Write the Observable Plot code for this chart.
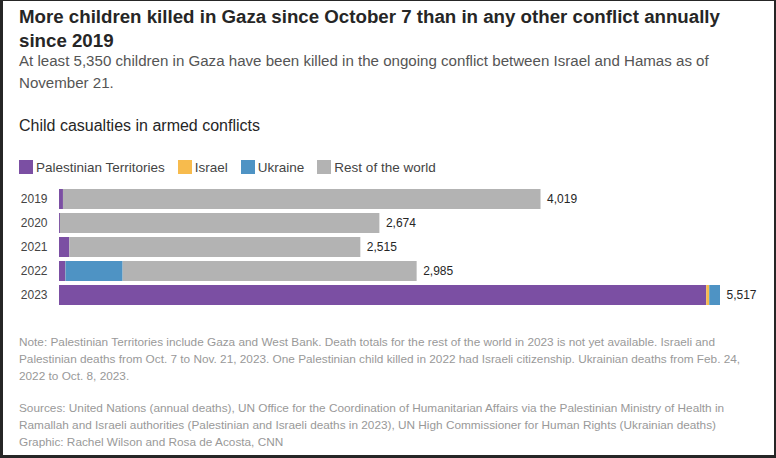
<!DOCTYPE html>
<html>
<head>
<meta charset="utf-8">
<script src="https://cdn.jsdelivr.net/npm/d3@7"></script>
<script src="https://cdn.jsdelivr.net/npm/@observablehq/plot@0.6"></script>
<style>
  html, body { margin: 0; padding: 0; background: #fff; }
  body { width: 776px; height: 458px; position: relative; overflow: hidden; font-family: "Liberation Sans", Arial, sans-serif; }
  .frame { position: absolute; left: 0; top: 0; width: 776px; height: 458px; box-sizing: border-box;
           border-style: solid; border-color: #262626; border-width: 1px 2px 3px 3px; pointer-events: none; z-index: 5; }
  .abs { position: absolute; left: 19px; white-space: nowrap; }
  #title { top: 5px; font-size: 18.7px; font-weight: bold; line-height: 24px; color: #262626; }
  #subtitle { top: 50px; font-size: 15.1px; line-height: 22px; color: #555; }
  #heading { top: 116px; font-size: 16px; line-height: 20px; color: #262626; }
  #legend { top: 159px; height: 16px; display: flex; align-items: center; font-size: 13.5px; color: #444; }
  #legend .sw { width: 14px; height: 14px; margin-right: 3px; }
  #legend .it { display: flex; align-items: center; margin-right: 13px; }
  #chart { position: absolute; left: 0; top: 181px; }
  #note { top: 334px; font-size: 11.8px; line-height: 17px; color: #999; }
  #sources { top: 400px; font-size: 11.8px; line-height: 17px; color: #999; }
</style>
</head>
<body>
<div class="frame"></div>
<div id="title" class="abs">More children killed in Gaza since October 7 than in any other conflict annually<br>since 2019</div>
<div id="subtitle" class="abs">At least 5,350 children in Gaza have been killed in the ongoing conflict between Israel and Hamas as of<br>November 21.</div>
<div id="heading" class="abs">Child casualties in armed conflicts</div>
<div id="legend" class="abs"></div>
<div id="chart"></div>
<div id="note" class="abs">Note: Palestinian Territories include Gaza and West Bank. Death totals for the rest of the world in 2023 is not yet available. Israeli and<br>Palestinian deaths from Oct. 7 to Nov. 21, 2023. One Palestinian child killed in 2022 had Israeli citizenship. Ukrainian deaths from Feb. 24,<br>2022 to Oct. 8, 2023.</div>
<div id="sources" class="abs">Sources: United Nations (annual deaths), UN Office for the Coordination of Humanitarian Affairs via the Palestinian Ministry of Health in<br>Ramallah and Israeli authorities (Palestinian and Israeli deaths in 2023), UN High Commissioner for Human Rights (Ukrainian deaths)<br>Graphic: Rachel Wilson and Rosa de Acosta, CNN</div>
<script>
const years = ["2019", "2020", "2021", "2022", "2023"];
const seriesNames = ["Palestinian Territories", "Israel", "Ukraine", "Rest of the world"];
const seriesColors = ["#7b4fa3", "#f7bb4d", "#4e93c4", "#b3b3b3"];
const palestinian = [33, 8, 86, 53, 5402];
const israel = [0, 0, 0, 1, 25];
const ukraine = [0, 0, 0, 477, 90];
const restOfWorld = [3986, 2666, 2429, 2454, 0];
const totalLabels = ["4,019", "2,674", "2,515", "2,985", "5,517"];

const seriesValues = [palestinian, israel, ukraine, restOfWorld];
const rows = [];
years.forEach((y, i) => {
  seriesNames.forEach((s, j) => rows.push({year: y, series: s, value: seriesValues[j][i]}));
});
const totals = years.map((y, i) => ({
  year: y,
  total: seriesValues.reduce((a, arr) => a + arr[i], 0),
  label: totalLabels[i]
}));

// legend
const legend = document.getElementById("legend");
seriesNames.forEach((s, j) => {
  const it = document.createElement("div");
  it.className = "it";
  const sw = document.createElement("div");
  sw.className = "sw";
  sw.style.background = seriesColors[j];
  const tx = document.createElement("span");
  tx.textContent = s;
  it.appendChild(sw); it.appendChild(tx);
  legend.appendChild(it);
});

const chart = Plot.plot({
  width: 776,
  height: 132,
  marginLeft: 59,
  marginRight: 56,
  marginTop: 4,
  marginBottom: 4,
  style: {fontFamily: "'Liberation Sans', Arial, sans-serif", background: "transparent"},
  x: {domain: [0, 5517], axis: null},
  y: {domain: years, padding: 0.16, label: null},
  color: {domain: seriesNames, range: seriesColors},
  marks: [
    Plot.barX(rows, Plot.stackX({x: "value", y: "year", fill: "series", order: seriesNames})),
    Plot.axisY({tickSize: 0, tickPadding: 12, fontSize: 12, fill: "#444", label: null}),
    Plot.text(totals, {x: "total", y: "year", text: "label", dx: 6, textAnchor: "start", fontSize: 12, fill: "#262626"})
  ]
});
document.getElementById("chart").appendChild(chart);
</script>
</body>
</html>
